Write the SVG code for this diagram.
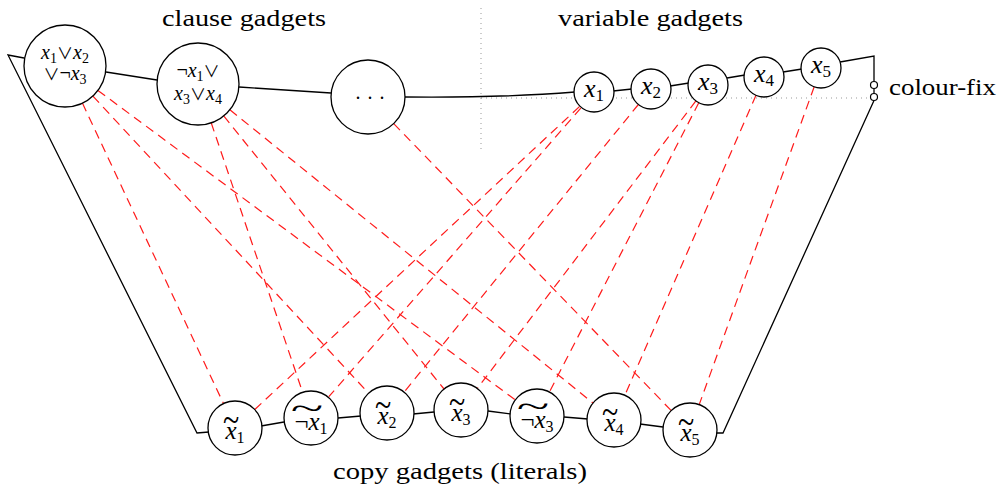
<svg xmlns="http://www.w3.org/2000/svg" width="999" height="498" viewBox="0 0 999 498">
  <style>
    .bg { fill: #ffffff; }
    .node { fill: #ffffff; stroke: #000000; stroke-width: 1.3; }
    .pin { fill: #ffffff; stroke: #000000; stroke-width: 1.2; }
    .edge { fill: none; stroke: #000000; stroke-width: 1.3; }
    .link { fill: none; stroke: #ff1a1a; stroke-width: 1.2; stroke-dasharray: 9 6; }
    .guide { fill: none; stroke: #999999; stroke-width: 1; stroke-dasharray: 1 4; }
    text { font-family: "Liberation Serif", "DejaVu Serif", serif; fill: #000000; }
    .title { font-size: 23px; }
    .v { font-size: 26px; }
    .c { font-size: 20px; }
    .cp { font-size: 25px; }
    .it { font-style: italic; }
    .sym { font-style: normal; }
    .or { font-family: "Noto Sans CJK JP", "DejaVu Sans", sans-serif; font-style: normal; font-size: 16px; }
  </style>

  <rect class="bg" x="0" y="0" width="999" height="498"/>

  <!-- section guides -->
  <g id="guides">
    <line class="guide" x1="481" y1="8" x2="481" y2="150"/>
    <line class="guide" x1="481" y1="98" x2="870" y2="98"/>
  </g>

  <!-- headings -->
  <g id="headings">
    <text class="title" x="162" y="26" textLength="164" lengthAdjust="spacingAndGlyphs">clause gadgets</text>
    <text class="title" x="558" y="26" textLength="185" lengthAdjust="spacingAndGlyphs">variable gadgets</text>
    <text class="title" x="889" y="95" textLength="107" lengthAdjust="spacingAndGlyphs">colour-fix</text>
    <text class="title" x="333" y="479" textLength="254" lengthAdjust="spacingAndGlyphs">copy gadgets (literals)</text>
  </g>

  <!-- connectors -->
  <g id="connectors">
    <!-- solid chain -->
    <polyline class="edge" points="24,58 8,55 197,433 209,432"/>
    <line class="edge" x1="106" y1="72" x2="157" y2="80"/>
    <line class="edge" x1="239" y1="87" x2="331" y2="93"/>
    <path class="edge" d="M405,97 Q500,98 575,92"/>
    <line class="edge" x1="613" y1="91" x2="632" y2="89"/>
    <line class="edge" x1="670" y1="86" x2="689" y2="83"/>
    <line class="edge" x1="727" y1="78" x2="745" y2="75"/>
    <line class="edge" x1="783" y1="72" x2="802" y2="69"/>
    <polyline class="edge" points="840,62 874,56 874,81"/>
    <line class="edge" x1="874" y1="88.5" x2="874" y2="93.5"/>
    <polyline class="edge" points="874,100.5 723,433 716,433"/>
    <line class="edge" x1="261" y1="426" x2="284" y2="422"/>
    <line class="edge" x1="338" y1="418" x2="361" y2="416"/>
    <line class="edge" x1="413" y1="414" x2="434" y2="412"/>
    <line class="edge" x1="488" y1="411" x2="511" y2="414"/>
    <line class="edge" x1="564" y1="417" x2="588" y2="419"/>
    <line class="edge" x1="640" y1="424" x2="663" y2="427"/>

    <!-- clause to literal -->
    <line class="link" x1="82.4" y1="103.1" x2="223.5" y2="403.6"/>
    <line class="link" x1="92.9" y1="96.1" x2="368.6" y2="393.2"/>
    <line class="link" x1="97.9" y1="90.4" x2="515.3" y2="399.9"/>
    <line class="link" x1="211.2" y1="122.8" x2="302.3" y2="391.4"/>
    <line class="link" x1="223.7" y1="115.9" x2="444.0" y2="389.0"/>
    <line class="link" x1="229.9" y1="109.8" x2="593.0" y2="403.0"/>
    <line class="link" x1="393.7" y1="123.6" x2="671.2" y2="410.6"/>
    <!-- variable to literal -->
    <line class="link" x1="579.4" y1="106.6" x2="254.7" y2="409.6"/>
    <line class="link" x1="580.8" y1="108.1" x2="328.8" y2="396.7"/>
    <line class="link" x1="638.4" y1="104.5" x2="404.1" y2="392.1"/>
    <line class="link" x1="695.9" y1="100.9" x2="477.3" y2="388.5"/>
    <line class="link" x1="698.8" y1="102.8" x2="549.4" y2="392.0"/>
    <line class="link" x1="756.0" y1="95.3" x2="624.8" y2="395.3"/>
    <line class="link" x1="814.2" y1="86.8" x2="699.2" y2="404.6"/>
  </g>

  <!-- colour-fix terminals -->
  <g id="colour-fix">
    <circle class="pin" cx="874" cy="85" r="3.5"/>
    <circle class="pin" cx="874" cy="97" r="3.5"/>
  </g>

  <!-- clause gadgets -->
  <g id="clause1">
    <circle class="node" cx="65" cy="66" r="41"/>
    <text class="c" x="65" y="59" text-anchor="middle"><tspan class="it">x</tspan><tspan font-size="14" dy="4">1</tspan><tspan class="or" dy="-4">∨</tspan><tspan class="it">x</tspan><tspan font-size="14" dy="4">2</tspan></text>
    <text class="c" x="65" y="80" text-anchor="middle"><tspan class="or">∨</tspan><tspan class="sym">¬</tspan><tspan class="it">x</tspan><tspan font-size="14" dy="4">3</tspan></text>
  </g>
  <g id="clause2">
    <circle class="node" cx="198" cy="84" r="41"/>
    <text class="c" x="198" y="77" text-anchor="middle"><tspan class="sym">¬</tspan><tspan class="it">x</tspan><tspan font-size="14" dy="4">1</tspan><tspan class="or" dy="-4">∨</tspan></text>
    <text class="c" x="198" y="100" text-anchor="middle"><tspan class="it">x</tspan><tspan font-size="14" dy="4">3</tspan><tspan class="or" dy="-4">∨</tspan><tspan class="it">x</tspan><tspan font-size="14" dy="4">4</tspan></text>
  </g>
  <g id="clause-more">
    <circle class="node" cx="368" cy="97" r="37"/>
    <text class="c" x="373.5" y="98.5" text-anchor="middle" letter-spacing="7">...</text>
  </g>

  <!-- variable gadgets -->
  <g id="var1">
    <circle class="node" cx="594" cy="92" r="20"/>
    <text class="v" x="594" y="97" text-anchor="middle"><tspan class="it">x</tspan><tspan font-size="17" dy="4">1</tspan></text>
  </g>
  <g id="var2">
    <circle class="node" cx="651" cy="89" r="20"/>
    <text class="v" x="651" y="94" text-anchor="middle"><tspan class="it">x</tspan><tspan font-size="17" dy="4">2</tspan></text>
  </g>
  <g id="var3">
    <circle class="node" cx="708" cy="85" r="20"/>
    <text class="v" x="708" y="90" text-anchor="middle"><tspan class="it">x</tspan><tspan font-size="17" dy="4">3</tspan></text>
  </g>
  <g id="var4">
    <circle class="node" cx="764" cy="77" r="20"/>
    <text class="v" x="764" y="82" text-anchor="middle"><tspan class="it">x</tspan><tspan font-size="17" dy="4">4</tspan></text>
  </g>
  <g id="var5">
    <circle class="node" cx="821" cy="68" r="20"/>
    <text class="v" x="821" y="73" text-anchor="middle"><tspan class="it">x</tspan><tspan font-size="17" dy="4">5</tspan></text>
  </g>

  <!-- copy gadgets (literals) -->
  <g id="copy-x1">
    <circle class="node" cx="235" cy="428" r="27"/>
    <text class="cp" x="235" y="439" text-anchor="middle"><tspan class="it">x</tspan><tspan font-size="16" dy="4">1</tspan></text>
    <text class="cp" text-anchor="middle" transform="translate(231,432) scale(1.2,1.5)">~</text>
  </g>
  <g id="copy-not-x1">
    <circle class="node" cx="311" cy="418" r="27"/>
    <text class="cp" x="311" y="430" text-anchor="middle"><tspan class="sym">¬</tspan><tspan class="it">x</tspan><tspan font-size="16" dy="4">1</tspan></text>
    <text class="cp" text-anchor="middle" transform="translate(307,419) scale(2.4,1.3)">~</text>
  </g>
  <g id="copy-x2">
    <circle class="node" cx="387" cy="413" r="27"/>
    <text class="cp" x="387" y="424" text-anchor="middle"><tspan class="it">x</tspan><tspan font-size="16" dy="4">2</tspan></text>
    <text class="cp" text-anchor="middle" transform="translate(383,417) scale(1.2,1.5)">~</text>
  </g>
  <g id="copy-x3">
    <circle class="node" cx="461" cy="410" r="27"/>
    <text class="cp" x="461" y="421" text-anchor="middle"><tspan class="it">x</tspan><tspan font-size="16" dy="4">3</tspan></text>
    <text class="cp" text-anchor="middle" transform="translate(457,414) scale(1.2,1.5)">~</text>
  </g>
  <g id="copy-not-x3">
    <circle class="node" cx="537" cy="416" r="27"/>
    <text class="cp" x="537" y="428" text-anchor="middle"><tspan class="sym">¬</tspan><tspan class="it">x</tspan><tspan font-size="16" dy="4">3</tspan></text>
    <text class="cp" text-anchor="middle" transform="translate(533,417) scale(2.4,1.3)">~</text>
  </g>
  <g id="copy-x4">
    <circle class="node" cx="614" cy="420" r="27"/>
    <text class="cp" x="614" y="431" text-anchor="middle"><tspan class="it">x</tspan><tspan font-size="16" dy="4">4</tspan></text>
    <text class="cp" text-anchor="middle" transform="translate(610,424) scale(1.2,1.5)">~</text>
  </g>
  <g id="copy-x5">
    <circle class="node" cx="690" cy="430" r="27"/>
    <text class="cp" x="690" y="441" text-anchor="middle"><tspan class="it">x</tspan><tspan font-size="16" dy="4">5</tspan></text>
    <text class="cp" text-anchor="middle" transform="translate(686,434) scale(1.2,1.5)">~</text>
  </g>
</svg>
